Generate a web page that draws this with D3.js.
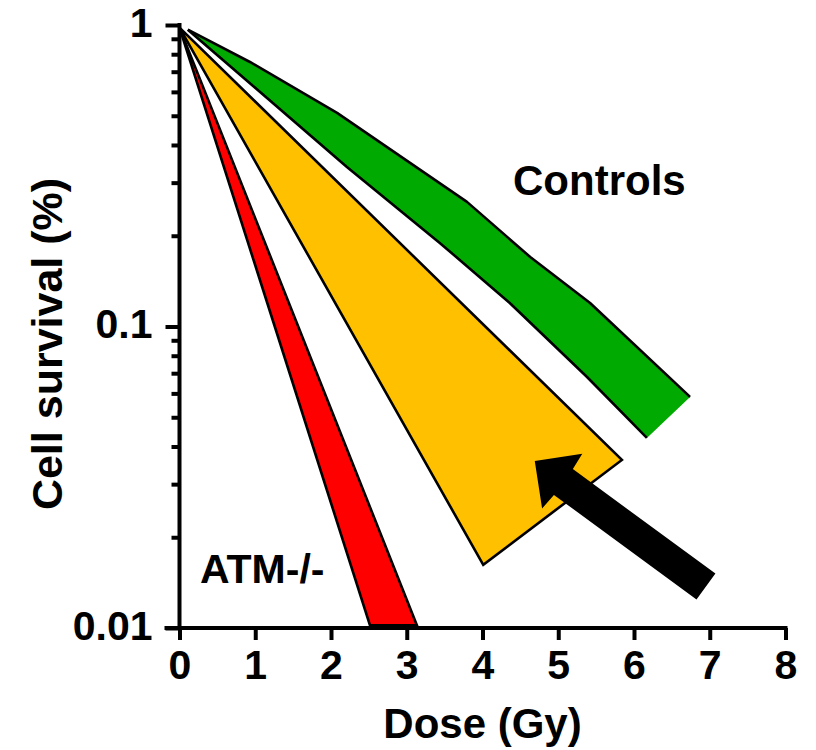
<!DOCTYPE html>
<html>
<head>
<meta charset="utf-8">
<script src="https://d3js.org/d3.v7.min.js"></script>
<style>
  html, body { margin: 0; padding: 0; background: #fff; }
  svg { display: block; }
  text { font-family: "Liberation Sans", Arial, sans-serif; font-weight: bold; fill: #000; }
</style>
</head>
<body>
<svg id="chart" width="816" height="750"></svg>
<script>
// ---- data ----
const xTicks = [0, 1, 2, 3, 4, 5, 6, 7, 8];
const yMajor = [0.01, 0.1, 1];
const yMajorLabels = ["0.01", "0.1", "1"];
const yMinor = [0.02, 0.03, 0.04, 0.05, 0.06, 0.07, 0.08, 0.09,
                0.2, 0.3, 0.4, 0.5, 0.6, 0.7, 0.8, 0.9];

// Controls band (green): upper and lower edges
const controlsUpperDose = [0.11, 0.93, 2.08, 3.795, 4.63, 5.42, 6.74];
const controlsUpperSurv = [0.965, 0.754, 0.511, 0.259, 0.170, 0.1197, 0.0584];
const controlsLowerDose = [0.11, 2.21, 3.44, 4.36, 5.38, 6.17];
const controlsLowerSurv = [0.965, 0.338, 0.189, 0.1197, 0.068, 0.0427];

// Intermediate band (orange)
const midDose = [0, 5.84, 4.01];
const midSurv = [0.98, 0.0361, 0.0162];

// ATM-/- band (red)
const atmDose = [0, 3.135, 2.515];
const atmSurv = [0.98, 0.0102, 0.0102];

// Arrow annotation: tip and tail (dose, survival)
const arrowTip = [4.69, 0.0358];
const arrowTail = [6.95, 0.01373];

const labels = { controls: "Controls", atm: "ATM-/-", xTitle: "Dose (Gy)", yTitle: "Cell survival (%)" };

// ---- scales ----
const svg = d3.select("#chart");
const x = d3.scaleLinear().domain([0, 8]).range([179.5, 785.5]);
const y = d3.scaleLog().domain([0.01, 1]).range([628, 25]);

// ---- axes ----
const axisW = 4;
const gx = svg.append("g").attr("transform", `translate(0,${y(0.01)})`)
  .call(d3.axisBottom(x).tickValues(xTicks).tickFormat(d3.format("d")).tickSize(12).tickSizeOuter(0).tickPadding(20));
gx.select(".domain").attr("stroke-width", axisW).attr("d", `M${x(0) - 15},0H${x(8) + 2}`);
gx.selectAll(".tick line").attr("stroke-width", axisW);
gx.selectAll(".tick text").style("font-size", "41px").attr("dy", "0.71em").attr("y", 22);

const gyMinor = svg.append("g").attr("transform", `translate(${x(0)},0)`)
  .call(d3.axisLeft(y).tickValues(yMinor).tickFormat("").tickSize(8).tickSizeOuter(0));
gyMinor.select(".domain").remove();
gyMinor.selectAll(".tick line").attr("stroke-width", axisW);

const gy = svg.append("g").attr("transform", `translate(${x(0)},0)`)
  .call(d3.axisLeft(y).tickValues(yMajor).tickFormat((d, i) => yMajorLabels[i]).tickSize(14).tickSizeOuter(0).tickPadding(13));
gy.select(".domain").attr("stroke-width", axisW).attr("d", `M0,${y(1) - 2}V${y(0.01) + 2}`);
gy.selectAll(".tick line").attr("stroke-width", axisW);
gy.selectAll(".tick text").style("font-size", "41px").attr("dy", "0.28em");

// ---- bands ----
const line = d3.line().x(d => x(d[0])).y(d => y(d[1]));
const zip = (a, b) => a.map((v, i) => [v, b[i]]);

const upper = zip(controlsUpperDose, controlsUpperSurv);
const lower = zip(controlsLowerDose, controlsLowerSurv);
const sw = 2.6;

// green fill (no stroke on end)
svg.append("path")
  .attr("d", line(upper.concat(lower.slice().reverse())) + "Z")
  .attr("fill", "#00AA00").attr("stroke", "none");
svg.append("path").attr("d", line(upper)).attr("fill", "none").attr("stroke", "#000").attr("stroke-width", sw).attr("stroke-linejoin", "round");
svg.append("path").attr("d", line(lower)).attr("fill", "none").attr("stroke", "#000").attr("stroke-width", sw).attr("stroke-linejoin", "round");

svg.append("path")
  .attr("d", line(zip(midDose, midSurv)) + "Z")
  .attr("fill", "#FFC000").attr("stroke", "#000").attr("stroke-width", sw).attr("stroke-linejoin", "miter");

svg.append("path")
  .attr("d", line(zip(atmDose, atmSurv)) + "Z")
  .attr("fill", "#FF0000").attr("stroke", "#000").attr("stroke-width", sw).attr("stroke-linejoin", "miter");

// ---- arrow ----
(function () {
  const T = [x(arrowTip[0]), y(arrowTip[1])];
  const E = [x(arrowTail[0]), y(arrowTail[1])];
  const dx = E[0] - T[0], dy = E[1] - T[1];
  const L = Math.hypot(dx, dy);
  const u = [dx / L, dy / L];
  const n = [-u[1], u[0]];
  const headLen = 34, headHalf = 34, notch = 35.5, shaftHalf = 16;
  const p = (base, a, b) => [base[0] + u[0] * a + n[0] * b, base[1] + u[1] * a + n[1] * b];
  const pts = [
    T,
    p(T, headLen, headHalf),
    p(T, notch, shaftHalf),
    p(E, 0, shaftHalf),
    p(E, 0, -shaftHalf),
    p(T, notch, -shaftHalf),
    p(T, headLen, -headHalf)
  ];
  svg.append("path").attr("d", "M" + pts.map(q => q.join(",")).join("L") + "Z").attr("fill", "#000");
})();

// ---- text ----
svg.append("text").attr("x", 513).attr("y", 195).style("font-size", "42px").text(labels.controls);
svg.append("text").attr("x", 200).attr("y", 583).style("font-size", "41px").text(labels.atm);
svg.append("text").attr("x", (x(0) + x(8)) / 2).attr("y", 738).attr("text-anchor", "middle").style("font-size", "42px").text(labels.xTitle);
svg.append("text").attr("transform", "translate(62,344) rotate(-90)").attr("text-anchor", "middle").style("font-size", "43px").text(labels.yTitle);
</script>
</body>
</html>
